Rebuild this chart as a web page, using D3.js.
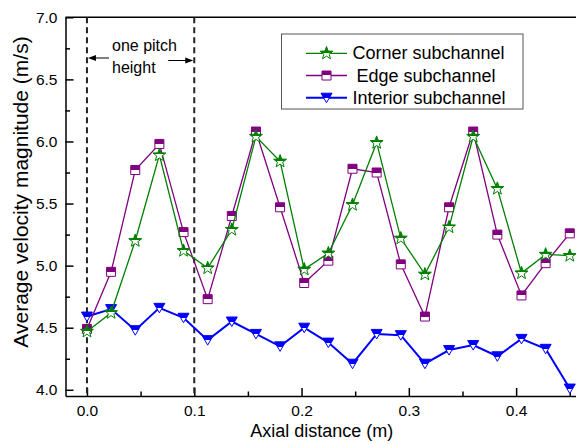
<!DOCTYPE html>
<html>
<head>
<meta charset="utf-8">
<script src="https://cdn.jsdelivr.net/npm/d3@7"></script>
<style>
  body { margin: 0; background: #fff; }
  svg { display: block; font-family: "Liberation Sans", Arial, sans-serif; }
</style>
</head>
<body>
<div id="chart"></div>
<script>
// Axial positions (m), one sample every 0.0225 m
var axial = [0, 0.0225, 0.045, 0.0675, 0.09, 0.1125, 0.135, 0.1575, 0.18, 0.2025,
  0.225, 0.2475, 0.27, 0.2925, 0.315, 0.3375, 0.36, 0.3825, 0.405, 0.4275, 0.45];

// velocity magnitudes (m/s)
var corner = [4.47, 4.62, 5.20, 5.89, 5.12, 4.98, 5.29, 6.04, 5.84, 4.97,
  5.10, 5.49, 5.99, 5.22, 4.93, 5.31, 6.04, 5.62, 4.94, 5.09, 5.08];
var edge = [4.49, 4.95, 5.77, 5.98, 5.27, 4.73, 5.40, 6.08, 5.47, 4.86,
  5.04, 5.78, 5.75, 5.01, 4.59, 5.47, 6.08, 5.25, 4.76, 5.02, 5.26];
var interior = [4.59, 4.65, 4.48, 4.66, 4.58, 4.40, 4.55, 4.45, 4.35, 4.50,
  4.38, 4.21, 4.45, 4.44, 4.21, 4.32, 4.36, 4.27, 4.41, 4.33, 4.01];

var seriesNames = ["Corner subchannel", "Edge subchannel", "Interior subchannel"];
var xTicks = [0, 0.1, 0.2, 0.3, 0.4];
var xMinor = [0.05, 0.15, 0.25, 0.35, 0.45];
var yTicks = [4.0, 4.5, 5.0, 5.5, 6.0, 6.5, 7.0];
var yMinor = [4.25, 4.75, 5.25, 5.75, 6.25, 6.75];
var pitchMarks = [0, 0.1];

var W = 576, H = 444;

var xScale = d3.scaleLinear().domain([-0.02, 0.46]).range([65.5, 580.5]);
var yScale = d3.scaleLinear().domain([3.95, 7.0]).range([396, 17.3]);

var svg = d3.select("#chart").append("svg")
    .attr("width", W)
    .attr("height", H);

var defs = svg.append("defs");

var series = [
  {name: seriesNames[0], values: corner, color: "#008000", shape: "star", width: 1.3},
  {name: seriesNames[1], values: edge, color: "#800080", shape: "square", width: 1.3},
  {name: seriesNames[2], values: interior, color: "#0000ff", shape: "tri", width: 2}
];

// half filled markers (top half solid)
series.forEach(function(s, i) {
  var g = defs.append("linearGradient")
      .attr("id", "half" + i)
      .attr("x1", 0).attr("y1", 0).attr("x2", 0).attr("y2", 1);
  g.append("stop").attr("offset", "0").attr("stop-color", s.color);
  g.append("stop").attr("offset", "0.5").attr("stop-color", s.color);
  g.append("stop").attr("offset", "0.5").attr("stop-color", "#fff");
  g.append("stop").attr("offset", "1").attr("stop-color", "#fff");
});

function markerPath(shape) {
  if (shape == "square") {
    return "M-4.5,-4.5H4.5V4.5H-4.5Z";
  }
  if (shape == "tri") {
    return "M-5.5,-4.5L5.5,-4.5L0,5Z";
  }
  // five point star
  var p = d3.path();
  for (var k = 0; k < 10; k++) {
    var r = (k % 2 == 0) ? 6.8 : 2.8;
    var a = -Math.PI / 2 + k * Math.PI / 5;
    if (k == 0) p.moveTo(r * Math.cos(a), r * Math.sin(a));
    else p.lineTo(r * Math.cos(a), r * Math.sin(a));
  }
  p.closePath();
  return p.toString();
}

// x axis, ticks pointing inward
svg.append("g")
    .attr("transform", "translate(0,396)")
    .call(d3.axisBottom(xScale).tickValues(xMinor).tickSize(-4.5).tickSizeOuter(0).tickFormat(""))
    .call(function(g) { g.select(".domain").remove(); });

var xAxis = svg.append("g")
    .attr("transform", "translate(0,396)")
    .call(d3.axisBottom(xScale).tickValues(xTicks).tickSize(-8).tickSizeOuter(0)
      .tickPadding(9).tickFormat(d3.format(".1f")));

var yAxis = svg.append("g")
    .attr("transform", "translate(65.5,0)")
    .call(d3.axisLeft(yScale).tickValues(yTicks).tickSize(-8).tickSizeOuter(0)
      .tickPadding(8).tickFormat(d3.format(".1f")));

svg.append("g")
    .attr("transform", "translate(65.5,0)")
    .call(d3.axisLeft(yScale).tickValues(yMinor).tickSize(-4.5).tickSizeOuter(0).tickFormat(""))
    .call(function(g) { g.select(".domain").remove(); });

svg.selectAll(".domain, .tick line").attr("stroke", "#000").attr("stroke-width", 1.5);
svg.selectAll(".tick text").attr("fill", "#000").style("font-size", "15.5px");

// top frame line
svg.append("line")
    .attr("x1", 65.5).attr("x2", W)
    .attr("y1", 17.3).attr("y2", 17.3)
    .attr("stroke", "#000").attr("stroke-width", 1.5);

// axis titles
svg.append("text")
    .attr("x", (65.5 + W) / 2 + 1)
    .attr("y", 437)
    .attr("text-anchor", "middle")
    .style("font-size", "18px")
    .text("Axial distance (m)");

svg.append("text")
    .attr("transform", "translate(28,192) rotate(-90)")
    .attr("text-anchor", "middle")
    .style("font-size", "21px")
    .text("Average velocity magnitude (m/s)");

// one pitch height markers
svg.selectAll(".pitch")
    .data(pitchMarks)
  .enter().append("line")
    .attr("class", "pitch")
    .attr("x1", function(d) { return xScale(d); })
    .attr("x2", function(d) { return xScale(d); })
    .attr("y1", yScale(7.0))
    .attr("y2", yScale(3.95))
    .attr("stroke", "#222")
    .attr("stroke-width", 2)
    .attr("stroke-dasharray", "6,4");

var x0 = xScale(pitchMarks[0]), x1 = xScale(pitchMarks[1]);
svg.append("line").attr("x1", x0 + 6).attr("x2", x0 + 22).attr("y1", 58).attr("y2", 58)
    .attr("stroke", "#000").attr("stroke-width", 1);
svg.append("path").attr("d", "M" + (x0 + 1) + ",58l8,-3v6z").attr("fill", "#000");
svg.append("line").attr("x1", x1 - 26).attr("x2", x1 - 6).attr("y1", 60.5).attr("y2", 60.5)
    .attr("stroke", "#000").attr("stroke-width", 1);
svg.append("path").attr("d", "M" + (x1 - 1) + ",60.5l-8,-3v6z").attr("fill", "#000");

svg.append("text").attr("x", 112).attr("y", 50.5).style("font-size", "16px").text("one pitch");
svg.append("text").attr("x", 112).attr("y", 72.5).style("font-size", "16px").text("height");

// series lines and markers, interior first so corner lands on top
var line = d3.line()
    .x(function(d, i) { return xScale(axial[i]); })
    .y(function(d) { return yScale(d); });

[2, 1, 0].forEach(function(i) {
  var s = series[i];
  var g = svg.append("g").attr("class", "series");
  g.append("path")
      .datum(s.values)
      .attr("d", line)
      .attr("fill", "none")
      .attr("stroke", s.color)
      .attr("stroke-width", s.width);
  g.selectAll(".pt")
      .data(s.values)
    .enter().append("path")
      .attr("class", "pt")
      .attr("d", markerPath(s.shape))
      .attr("transform", function(d, k) {
        return "translate(" + xScale(axial[k]) + "," + yScale(d) + ")";
      })
      .attr("fill", "url(#half" + i + ")")
      .attr("stroke", s.color)
      .attr("stroke-width", 1);
});

// legend
var legend = svg.append("g");
legend.append("rect")
    .attr("x", 281.5).attr("y", 34)
    .attr("width", 241.5).attr("height", 75)
    .attr("fill", "#fff")
    .attr("stroke", "#555")
    .attr("stroke-width", 1);

var textShift = [0, 4, 0];
series.forEach(function(s, i) {
  var ly = 53.3 + i * 22.2;
  legend.append("line")
      .attr("x1", 306).attr("x2", 347)
      .attr("y1", ly).attr("y2", ly)
      .attr("stroke", s.color)
      .attr("stroke-width", s.width);
  legend.append("path")
      .attr("d", markerPath(s.shape))
      .attr("transform", "translate(326.5," + ly + ")")
      .attr("fill", "url(#half" + i + ")")
      .attr("stroke", s.color)
      .attr("stroke-width", 1);
  legend.append("text")
      .attr("x", 352.5 + textShift[i])
      .attr("y", ly + 6)
      .style("font-size", "18px")
      .text(s.name);
});
</script>
</body>
</html>
